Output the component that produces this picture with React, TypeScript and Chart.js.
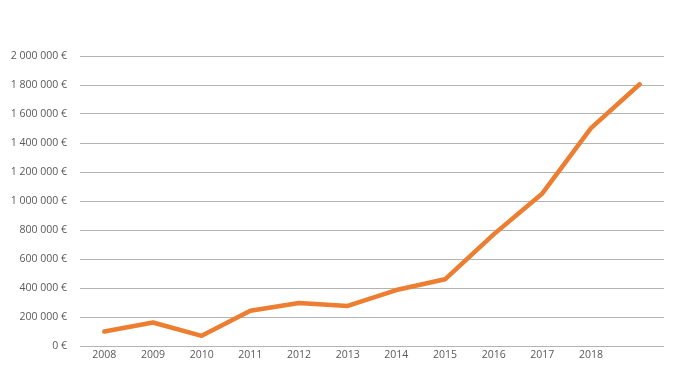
import React, { useEffect, useRef } from "react";
import { Chart, registerables } from "chart.js";

Chart.register(...registerables);

const categories = ["2008", "2009", "2010", "2011", "2012", "2013", "2014", "2015", "2016", "2017", "2018", ""];
const values = [100000, 162000, 70000, 243000, 296000, 276000, 386000, 460000, 770000, 1052000, 1503000, 1805000];
const yTicks = [0, 200000, 400000, 600000, 800000, 1000000, 1200000, 1400000, 1600000, 1800000, 2000000];

function fmt(v: number): string {
  return String(Math.round(v)).replace(/\B(?=(\d{3})+(?!\d))/g, " ") + " €";
}

export default function App() {
  const ref = useRef<HTMLCanvasElement | null>(null);
  useEffect(() => {
    document.body.style.margin = "0";
    const ctx = ref.current!;
    const chart = new Chart(ctx, {
      type: "line",
      data: {
        labels: categories,
        datasets: [
          {
            data: values,
            borderColor: "#ED7D31",
            borderWidth: 4.5,
            pointRadius: 0,
            borderCapStyle: "round",
            borderJoinStyle: "round",
            tension: 0,
            fill: false,
          },
        ],
      },
      options: {
        animation: false,
        responsive: false,
        maintainAspectRatio: false,
        layout: { padding: { left: 0, right: 13, top: 56, bottom: 0 } },
        plugins: { legend: { display: false }, tooltip: { enabled: false } },
        scales: {
          x: {
            offset: true,
            grid: { display: false, drawTicks: false },
            border: { display: false },
            ticks: {
              color: "#595959",
              font: { family: "Open Sans", size: 10.5 },
              padding: 3,
              maxRotation: 0,
              autoSkip: false,
            },
            afterFit: (s: any) => {
              s.height = 21;
            },
          },
          y: {
            min: 0,
            max: 2000000,
            afterBuildTicks: (s: any) => {
              s.ticks = yTicks.map((v) => ({ value: v }));
            },
            grid: { color: "#b3b3b3", lineWidth: 1, drawTicks: false },
            border: { display: false },
            ticks: {
              color: "#595959",
              font: { family: "Open Sans", size: 10.5 },
              padding: 13,
              callback: (v: any) => fmt(Number(v)),
            },
            afterFit: (s: any) => {
              s.width = 80;
            },
          },
        },
      },
    });
    return () => chart.destroy();
  }, []);
  return <canvas ref={ref} width={677} height={367} style={{ display: "block" }} />;
}
